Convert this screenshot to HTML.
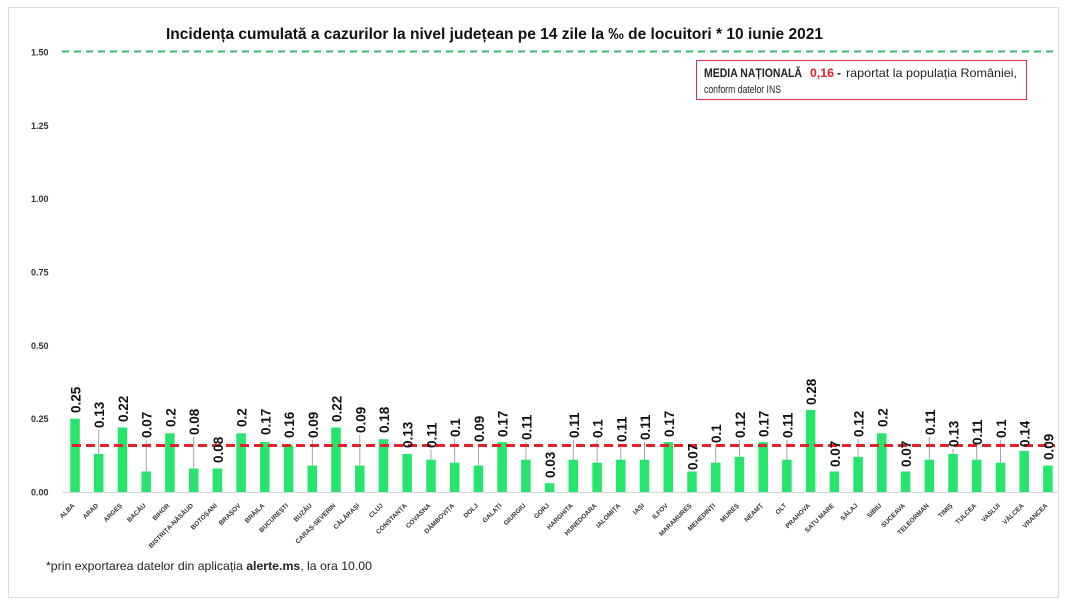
<!DOCTYPE html>
<html>
<head>
<meta charset="utf-8">
<style>
html,body{margin:0;padding:0;background:#fff;}
svg{display:block;}
text{font-family:"Liberation Sans",sans-serif;}
</style>
</head>
<body>
<svg width="1070" height="608" viewBox="0 0 1070 608" xmlns="http://www.w3.org/2000/svg">
<rect x="0" y="0" width="1070" height="608" fill="#fff"/>
<rect x="8.5" y="7.5" width="1050" height="590" fill="#fff" stroke="#dcdcdc" stroke-width="1"/>

<!-- title -->
<text x="166" y="39" font-size="15.5" font-weight="bold" fill="#111" textLength="657" lengthAdjust="spacingAndGlyphs">Incidența cumulată a cazurilor la nivel județean pe 14 zile la ‰ de locuitori *  10 iunie 2021</text>

<!-- y axis labels -->
<g font-size="9" font-weight="bold" fill="#333">
<text x="31" y="55.5">1.50</text>
<text x="31" y="128.8">1.25</text>
<text x="31" y="202.2">1.00</text>
<text x="31" y="275.5">0.75</text>
<text x="31" y="348.8">0.50</text>
<text x="31" y="422.2">0.25</text>
<text x="31" y="495.5">0.00</text>
</g>

<!-- green dashed 1.50 -->
<line x1="62" y1="51.5" x2="1058" y2="51.5" stroke="#3cba78" stroke-width="2" stroke-dasharray="7,5"/>

<!-- legend box -->
<rect x="696.5" y="60.5" width="330" height="39" fill="#fff" stroke="#d8343c" stroke-width="1"/>
<text x="704" y="77" font-size="12" font-weight="bold" fill="#222" textLength="98" lengthAdjust="spacingAndGlyphs">MEDIA NAȚIONALĂ</text>
<text x="810" y="77" font-size="12" font-weight="bold" fill="#e0202a" textLength="24" lengthAdjust="spacingAndGlyphs">0,16</text>
<text x="837" y="77" font-size="12" font-weight="bold" fill="#222">-</text>
<text x="846" y="77" font-size="12" fill="#222" textLength="171" lengthAdjust="spacingAndGlyphs">raportat la populația României,</text>
<text x="704" y="93" font-size="11" fill="#222" textLength="77" lengthAdjust="spacingAndGlyphs">conform datelor INS</text>

<!-- baseline -->
<line x1="62" y1="492.5" x2="1058" y2="492.5" stroke="#d9d9d9" stroke-width="1"/>

<!-- leader lines -->
<g stroke="#9a9a9a" stroke-width="0.9">
<line x1="98.7" y1="430" x2="98.7" y2="453.9"/>
<line x1="146.2" y1="440" x2="146.2" y2="471.5"/>
<line x1="193.7" y1="437" x2="193.7" y2="468.5"/>
<line x1="312.3" y1="440" x2="312.3" y2="465.6"/>
<line x1="359.8" y1="435" x2="359.8" y2="465.6"/>
<line x1="431.0" y1="450" x2="431.0" y2="459.7"/>
<line x1="454.7" y1="439" x2="454.7" y2="462.7"/>
<line x1="478.4" y1="444" x2="478.4" y2="465.6"/>
<line x1="525.9" y1="442" x2="525.9" y2="459.7"/>
<line x1="573.3" y1="440" x2="573.3" y2="459.7"/>
<line x1="597.1" y1="440" x2="597.1" y2="462.7"/>
<line x1="620.8" y1="444" x2="620.8" y2="459.7"/>
<line x1="644.5" y1="442" x2="644.5" y2="459.7"/>
<line x1="715.7" y1="445" x2="715.7" y2="462.7"/>
<line x1="739.4" y1="440" x2="739.4" y2="456.8"/>
<line x1="786.9" y1="440" x2="786.9" y2="459.7"/>
<line x1="858.1" y1="439" x2="858.1" y2="456.8"/>
<line x1="929.3" y1="437" x2="929.3" y2="459.7"/>
<line x1="953.0" y1="449" x2="953.0" y2="453.9"/>
<line x1="976.7" y1="447" x2="976.7" y2="459.7"/>
<line x1="1000.5" y1="440" x2="1000.5" y2="462.7"/>
</g>

<!-- bars -->
<g fill="#26e46c">
<rect x="70.25" y="418.7" width="9.5" height="73.3"/>
<rect x="93.95" y="453.9" width="9.5" height="38.1"/>
<rect x="117.75" y="427.5" width="9.5" height="64.5"/>
<rect x="141.45" y="471.5" width="9.5" height="20.5"/>
<rect x="165.15" y="433.3" width="9.5" height="58.7"/>
<rect x="188.95" y="468.5" width="9.5" height="23.5"/>
<rect x="212.65" y="468.5" width="9.5" height="23.5"/>
<rect x="236.35" y="433.3" width="9.5" height="58.7"/>
<rect x="260.05" y="442.1" width="9.5" height="49.9"/>
<rect x="283.85" y="445.1" width="9.5" height="46.9"/>
<rect x="307.55" y="465.6" width="9.5" height="26.4"/>
<rect x="331.25" y="427.5" width="9.5" height="64.5"/>
<rect x="355.05" y="465.6" width="9.5" height="26.4"/>
<rect x="378.75" y="439.2" width="9.5" height="52.8"/>
<rect x="402.45" y="453.9" width="9.5" height="38.1"/>
<rect x="426.25" y="459.7" width="9.5" height="32.3"/>
<rect x="449.95" y="462.7" width="9.5" height="29.3"/>
<rect x="473.65" y="465.6" width="9.5" height="26.4"/>
<rect x="497.35" y="442.1" width="9.5" height="49.9"/>
<rect x="521.15" y="459.7" width="9.5" height="32.3"/>
<rect x="544.85" y="483.2" width="9.5" height="8.8"/>
<rect x="568.55" y="459.7" width="9.5" height="32.3"/>
<rect x="592.35" y="462.7" width="9.5" height="29.3"/>
<rect x="616.05" y="459.7" width="9.5" height="32.3"/>
<rect x="639.75" y="459.7" width="9.5" height="32.3"/>
<rect x="663.55" y="442.1" width="9.5" height="49.9"/>
<rect x="687.25" y="471.5" width="9.5" height="20.5"/>
<rect x="710.95" y="462.7" width="9.5" height="29.3"/>
<rect x="734.65" y="456.8" width="9.5" height="35.2"/>
<rect x="758.45" y="442.1" width="9.5" height="49.9"/>
<rect x="782.15" y="459.7" width="9.5" height="32.3"/>
<rect x="805.85" y="409.9" width="9.5" height="82.1"/>
<rect x="829.65" y="471.5" width="9.5" height="20.5"/>
<rect x="853.35" y="456.8" width="9.5" height="35.2"/>
<rect x="877.05" y="433.3" width="9.5" height="58.7"/>
<rect x="900.85" y="471.5" width="9.5" height="20.5"/>
<rect x="924.55" y="459.7" width="9.5" height="32.3"/>
<rect x="948.25" y="453.9" width="9.5" height="38.1"/>
<rect x="971.95" y="459.7" width="9.5" height="32.3"/>
<rect x="995.75" y="462.7" width="9.5" height="29.3"/>
<rect x="1019.45" y="450.9" width="9.5" height="41.1"/>
<rect x="1043.15" y="465.6" width="9.5" height="26.4"/>
</g>

<!-- red dashed national average -->
<line x1="72" y1="445.5" x2="1055" y2="445.5" stroke="#e8202a" stroke-width="3" stroke-dasharray="9,5"/>

<!-- value labels -->
<g font-size="13.5" font-weight="bold" fill="#111">
<text transform="translate(80.5,413) rotate(-90)">0.25</text>
<text transform="translate(104.2,428) rotate(-90)">0.13</text>
<text transform="translate(128,422) rotate(-90)">0.22</text>
<text transform="translate(151.7,438) rotate(-90)">0.07</text>
<text transform="translate(175.4,427) rotate(-90)">0.2</text>
<text transform="translate(199.2,435) rotate(-90)">0.08</text>
<text transform="translate(222.9,463) rotate(-90)">0.08</text>
<text transform="translate(246.6,427) rotate(-90)">0.2</text>
<text transform="translate(270.3,435) rotate(-90)">0.17</text>
<text transform="translate(294.1,438) rotate(-90)">0.16</text>
<text transform="translate(317.8,438) rotate(-90)">0.09</text>
<text transform="translate(341.5,422) rotate(-90)">0.22</text>
<text transform="translate(365.3,433) rotate(-90)">0.09</text>
<text transform="translate(389,433) rotate(-90)">0.18</text>
<text transform="translate(412.7,448) rotate(-90)">0.13</text>
<text transform="translate(436.5,448) rotate(-90)">0.11</text>
<text transform="translate(460.2,437) rotate(-90)">0.1</text>
<text transform="translate(483.9,442) rotate(-90)">0.09</text>
<text transform="translate(507.6,437) rotate(-90)">0.17</text>
<text transform="translate(531.4,440) rotate(-90)">0.11</text>
<text transform="translate(555.1,478) rotate(-90)">0.03</text>
<text transform="translate(578.8,438) rotate(-90)">0.11</text>
<text transform="translate(602.6,438) rotate(-90)">0.1</text>
<text transform="translate(626.3,442) rotate(-90)">0.11</text>
<text transform="translate(650,440) rotate(-90)">0.11</text>
<text transform="translate(673.8,437) rotate(-90)">0.17</text>
<text transform="translate(697.5,470) rotate(-90)">0.07</text>
<text transform="translate(721.2,443) rotate(-90)">0.1</text>
<text transform="translate(744.9,438) rotate(-90)">0.12</text>
<text transform="translate(768.7,437) rotate(-90)">0.17</text>
<text transform="translate(792.4,438) rotate(-90)">0.11</text>
<text transform="translate(816.1,405) rotate(-90)">0.28</text>
<text transform="translate(839.9,467) rotate(-90)">0.07</text>
<text transform="translate(863.6,437) rotate(-90)">0.12</text>
<text transform="translate(887.3,427) rotate(-90)">0.2</text>
<text transform="translate(911.1,467) rotate(-90)">0.07</text>
<text transform="translate(934.8,435) rotate(-90)">0.11</text>
<text transform="translate(958.5,447) rotate(-90)">0.13</text>
<text transform="translate(982.2,445) rotate(-90)">0.11</text>
<text transform="translate(1006,438) rotate(-90)">0.1</text>
<text transform="translate(1029.7,447) rotate(-90)">0.14</text>
<text transform="translate(1053.4,460) rotate(-90)">0.09</text>
</g>

<!-- x axis labels -->
<g font-size="6.5" font-weight="bold" fill="#333" text-anchor="end">
<text transform="translate(75,506) rotate(-45)">ALBA</text>
<text transform="translate(98.7,506) rotate(-45)">ARAD</text>
<text transform="translate(122.5,506) rotate(-45)">ARGEȘ</text>
<text transform="translate(146.2,506) rotate(-45)">BACĂU</text>
<text transform="translate(169.9,506) rotate(-45)">BIHOR</text>
<text transform="translate(193.7,506) rotate(-45)">BISTRIȚA-NĂSĂUD</text>
<text transform="translate(217.4,506) rotate(-45)">BOTOȘANI</text>
<text transform="translate(241.1,506) rotate(-45)">BRAȘOV</text>
<text transform="translate(264.8,506) rotate(-45)">BRĂILA</text>
<text transform="translate(288.6,506) rotate(-45)">BUCUREȘTI</text>
<text transform="translate(312.3,506) rotate(-45)">BUZĂU</text>
<text transform="translate(336,506) rotate(-45)">CARAȘ-SEVERIN</text>
<text transform="translate(359.8,506) rotate(-45)">CĂLĂRAȘI</text>
<text transform="translate(383.5,506) rotate(-45)">CLUJ</text>
<text transform="translate(407.2,506) rotate(-45)">CONSTANȚA</text>
<text transform="translate(431,506) rotate(-45)">COVASNA</text>
<text transform="translate(454.7,506) rotate(-45)">DÂMBOVIȚA</text>
<text transform="translate(478.4,506) rotate(-45)">DOLJ</text>
<text transform="translate(502.1,506) rotate(-45)">GALAȚI</text>
<text transform="translate(525.9,506) rotate(-45)">GIURGIU</text>
<text transform="translate(549.6,506) rotate(-45)">GORJ</text>
<text transform="translate(573.3,506) rotate(-45)">HARGHITA</text>
<text transform="translate(597.1,506) rotate(-45)">HUNEDOARA</text>
<text transform="translate(620.8,506) rotate(-45)">IALOMIȚA</text>
<text transform="translate(644.5,506) rotate(-45)">IAȘI</text>
<text transform="translate(668.3,506) rotate(-45)">ILFOV</text>
<text transform="translate(692,506) rotate(-45)">MARAMUREȘ</text>
<text transform="translate(715.7,506) rotate(-45)">MEHEDINȚI</text>
<text transform="translate(739.4,506) rotate(-45)">MUREȘ</text>
<text transform="translate(763.2,506) rotate(-45)">NEAMȚ</text>
<text transform="translate(786.9,506) rotate(-45)">OLT</text>
<text transform="translate(810.6,506) rotate(-45)">PRAHOVA</text>
<text transform="translate(834.4,506) rotate(-45)">SATU MARE</text>
<text transform="translate(858.1,506) rotate(-45)">SĂLAJ</text>
<text transform="translate(881.8,506) rotate(-45)">SIBIU</text>
<text transform="translate(905.6,506) rotate(-45)">SUCEAVA</text>
<text transform="translate(929.3,506) rotate(-45)">TELEORMAN</text>
<text transform="translate(953,506) rotate(-45)">TIMIȘ</text>
<text transform="translate(976.7,506) rotate(-45)">TULCEA</text>
<text transform="translate(1000.5,506) rotate(-45)">VASLUI</text>
<text transform="translate(1024.2,506) rotate(-45)">VÂLCEA</text>
<text transform="translate(1047.9,506) rotate(-45)">VRANCEA</text>
</g>

<!-- footnote -->
<text x="46" y="570" font-size="12" fill="#222" textLength="326" lengthAdjust="spacingAndGlyphs">*prin exportarea  datelor din aplicația <tspan font-weight="bold">alerte.ms</tspan>, la ora 10.00</text>
</svg>
</body>
</html>
